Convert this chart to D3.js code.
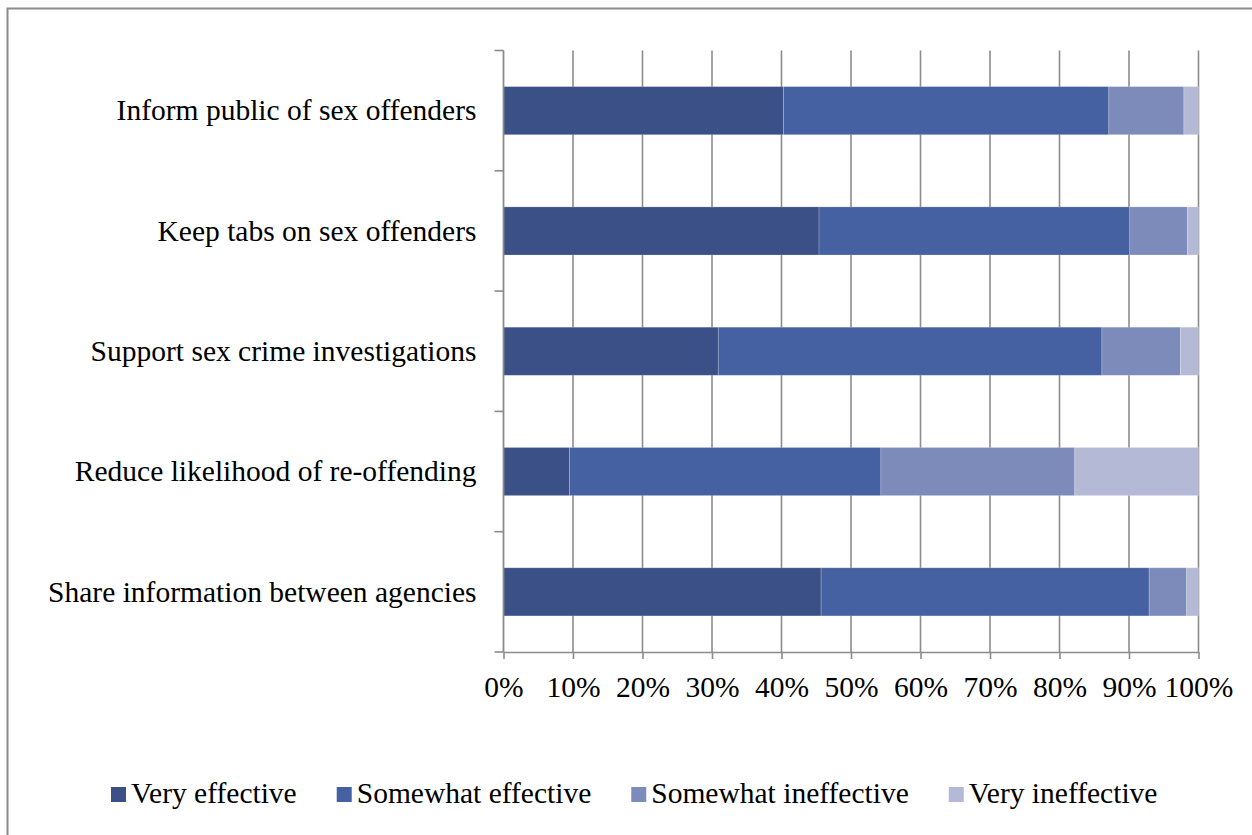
<!DOCTYPE html>
<html>
<head>
<meta charset="utf-8">
<script src="https://cdn.jsdelivr.net/npm/d3@7"></script>
<style>
  body { margin: 0; background: #fff; }
  text { font-family: 'Liberation Serif', 'Times New Roman', serif; fill: #000; }
</style>
</head>
<body>
<div id="chart"></div>
<script>
let categories = [
  'Inform public of sex offenders',
  'Keep tabs on sex offenders',
  'Support sex crime investigations',
  'Reduce likelihood of re-offending',
  'Share information between agencies'
]

let seriesNames = ['Very effective', 'Somewhat effective', 'Somewhat ineffective', 'Very ineffective']

let veryEffective = [40.3, 45.4, 30.9, 9.5, 45.7]
let somewhatEffective = [46.8, 44.7, 55.2, 44.8, 47.2]
let somewhatIneffective = [10.8, 8.3, 11.3, 27.9, 5.4]
let veryIneffective = [2.1, 1.6, 2.6, 17.8, 1.7]

let xTicks = [0, 0.1, 0.2, 0.3, 0.4, 0.5, 0.6, 0.7, 0.8, 0.9, 1]

let colors = ['#3a5087', '#4661a1', '#7d8bba', '#b4b9d6']

let fontSize = 29.5

let margin = { top: 50.5, left: 503.5, right: 53.5, bottom: 183 }
let fullWidth = 1252
let fullHeight = 835
let width = fullWidth - margin.left - margin.right
let height = fullHeight - margin.top - margin.bottom

let root = d3
  .select('#chart')
  .append('svg')
  .attr('width', fullWidth)
  .attr('height', fullHeight)

// outer frame (cut off at right and bottom like the source)
root
  .append('rect')
  .attr('x', 7.5)
  .attr('y', 8.5)
  .attr('width', 1400)
  .attr('height', 1000)
  .attr('fill', 'none')
  .attr('stroke', '#8c8c8c')
  .attr('stroke-width', 2)

let svg = root
  .append('g')
  .attr('transform', 'translate(' + margin.left + ',' + margin.top + ')')

let rows = categories.map((c, i) => ({
  category: c,
  'Very effective': veryEffective[i],
  'Somewhat effective': somewhatEffective[i],
  'Somewhat ineffective': somewhatIneffective[i],
  'Very ineffective': veryIneffective[i]
}))

let stacked = d3.stack().keys(seriesNames).offset(d3.stackOffsetExpand)(rows)

let xPositionScale = d3.scaleLinear().domain([0, 1]).range([0, width])
let yPositionScale = d3
  .scaleBand()
  .domain(categories)
  .range([0, height])
  .paddingInner(0.6)
  .paddingOuter(0.3)

let colorScale = d3.scaleOrdinal().domain(seriesNames).range(colors)

// gridlines
svg
  .selectAll('.grid')
  .data(xTicks.slice(1))
  .enter()
  .append('line')
  .attr('class', 'grid')
  .attr('x1', d => xPositionScale(d))
  .attr('x2', d => xPositionScale(d))
  .attr('y1', 0)
  .attr('y2', height)
  .attr('stroke', '#8c8c8c')
  .attr('stroke-width', 1.6)

// bars
svg
  .selectAll('.series')
  .data(stacked)
  .enter()
  .append('g')
  .attr('class', 'series')
  .attr('fill', d => colorScale(d.key))
  .selectAll('rect')
  .data(d => d)
  .enter()
  .append('rect')
  .attr('x', d => xPositionScale(d[0]))
  .attr('width', d => xPositionScale(d[1]) - xPositionScale(d[0]))
  .attr('y', d => yPositionScale(d.data.category))
  .attr('height', yPositionScale.bandwidth())
  .attr('stroke', 'rgba(255,255,255,0.25)')
  .attr('stroke-width', 0.8)

// x axis
let xAxis = d3
  .axisBottom(xPositionScale)
  .tickValues(xTicks)
  .tickFormat(d3.format('.0%'))
  .tickSizeInner(7)
  .tickSizeOuter(0)
  .tickPadding(17.5)

let xg = svg
  .append('g')
  .attr('class', 'axis x-axis')
  .attr('transform', 'translate(0,' + height + ')')
  .call(xAxis)
xg.select('.domain').attr('stroke', '#8c8c8c').attr('stroke-width', 1.6)
xg.selectAll('.tick line').attr('stroke', '#8c8c8c').attr('stroke-width', 1.6)
xg.selectAll('text').attr('font-size', fontSize).attr('font-family', null)

// y axis line and boundary ticks
let step = yPositionScale.step()
let boundaries = d3.range(categories.length + 1).map(i => i * step)

svg
  .append('line')
  .attr('x1', 0)
  .attr('x2', 0)
  .attr('y1', 0)
  .attr('y2', height)
  .attr('stroke', '#8c8c8c')
  .attr('stroke-width', 1.8)

svg
  .selectAll('.y-tick')
  .data(boundaries)
  .enter()
  .append('line')
  .attr('class', 'y-tick')
  .attr('x1', -9)
  .attr('x2', 0)
  .attr('y1', d => d)
  .attr('y2', d => d)
  .attr('stroke', '#8c8c8c')
  .attr('stroke-width', 1.6)

svg
  .selectAll('.y-label')
  .data(categories)
  .enter()
  .append('text')
  .attr('class', 'y-label')
  .attr('x', -27)
  .attr('y', d => yPositionScale(d) + yPositionScale.bandwidth() / 2)
  .attr('dy', '0.33em')
  .attr('text-anchor', 'end')
  .attr('font-size', fontSize)
  .text(d => d)

// legend
let legend = root.append('g').attr('transform', 'translate(111,0)')
let cursor = 0
seriesNames.forEach(name => {
  let item = legend.append('g').attr('transform', 'translate(' + cursor + ',0)')
  item
    .append('rect')
    .attr('x', 0)
    .attr('y', 787)
    .attr('width', 15)
    .attr('height', 15)
    .attr('fill', colorScale(name))
  let t = item
    .append('text')
    .attr('x', 20)
    .attr('y', 803)
    .attr('font-size', fontSize)
    .text(name)
  cursor += 20 + t.node().getComputedTextLength() + 40
})
</script>
</body>
</html>
